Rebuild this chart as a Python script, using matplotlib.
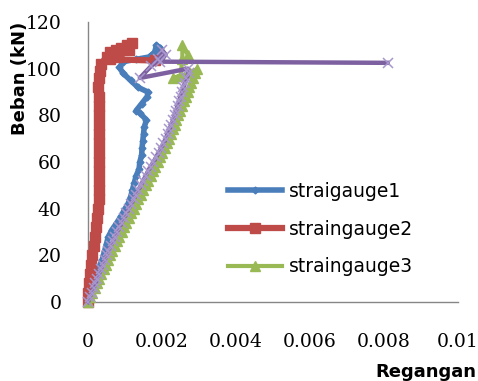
import matplotlib
matplotlib.use("Agg")
import matplotlib.pyplot as plt
import numpy as np

# regangan dalam satuan 1e-3, beban dalam kN
reg1 = [0, 0.05, 0.1, 0.15, 0.22, 0.3, 0.38, 0.45, 0.5, 0.55, 0.65, 0.78, 0.9, 1.0, 1.08,
        1.15, 1.2, 1.25, 1.3, 1.38, 1.4, 1.45, 1.46, 1.48, 1.5, 1.52, 1.58, 1.4, 1.3, 1.45,
        1.6, 1.62, 1.35, 1.15, 0.95, 0.85, 0.95, 1.3, 1.65, 1.8, 1.85, 1.95, 1.75]
beban1 = [0, 3, 6, 9, 12, 15, 18, 22, 25, 28, 31, 34, 37, 40, 42,
          45, 48, 51, 54, 57, 60, 63, 66, 69, 72, 75, 78, 81, 82, 85,
          88, 90, 92, 95, 98, 100.5, 103, 104, 105, 107, 110, 109, 106]

reg2 = [0, 0.0, 0.02, 0.05, 0.08, 0.12, 0.15, 0.19, 0.22, 0.25, 0.28, 0.3, 0.31, 0.3,
        0.31, 0.3, 0.3, 0.31, 0.3, 0.29, 0.3, 0.31, 0.3, 0.28, 0.3, 0.32, 0.35, 0.5,
        0.6, 0.75, 0.9, 1.05, 1.2, 1.1, 0.8, 0.6, 1.8]
beban2 = [0, 4, 8, 12, 16, 20, 24, 28, 32, 36, 40, 44, 48, 52,
          56, 60, 64, 68, 72, 76, 80, 84, 88, 92, 96, 99, 102, 105,
          107, 108, 109, 110, 111, 108, 105, 104, 103.5]

reg3 = [0, 0.06, 0.12, 0.18, 0.24, 0.3, 0.36, 0.42, 0.48, 0.54, 0.6, 0.66, 0.72, 0.78,
        0.85, 0.91, 0.97, 1.04, 1.1, 1.17, 1.23, 1.3, 1.36, 1.43, 1.49, 1.56, 1.62, 1.69,
        1.75, 1.82, 1.88, 1.95, 2.01, 2.07, 2.13, 2.19, 2.24, 2.29, 2.34, 2.39, 2.44,
        2.49, 2.54, 2.59, 2.64, 2.69, 2.74, 2.79, 2.84, 2.89, 2.95,
        2.75, 2.3, 2.5, 2.55, 2.55, 2.7]
beban3 = [0, 2, 4, 6, 8, 10, 12, 14, 16, 18, 20, 22, 24, 26,
          28, 30, 32, 34, 36, 38, 40, 42, 44, 46, 48, 50, 52, 54,
          56, 58, 60, 62, 64, 66, 68, 70, 72, 74, 76, 78, 80,
          82, 84, 86, 88, 90, 92, 94, 96, 98, 100,
          98, 96, 97, 104, 110, 106]

reg4 = [0, 0.05, 0.1, 0.15, 0.2, 0.25, 0.3, 0.35, 0.4, 0.45, 0.5, 0.55, 0.61, 0.67,
        0.73, 0.79, 0.85, 0.91, 0.98, 1.04, 1.1, 1.17, 1.23, 1.3, 1.36, 1.43, 1.49, 1.56,
        1.62, 1.69, 1.77, 1.84, 1.91, 1.98, 2.04, 2.1, 2.15, 2.2, 2.25, 2.3, 2.34,
        2.38, 2.42, 2.46, 2.5, 2.54, 2.58, 2.62, 2.66, 2.72, 2.7,
        1.4, 1.7, 1.9, 2.0, 2.1, 1.95, 8.1]
beban4 = [0, 2, 4, 6, 8, 10, 12, 14, 16, 18, 20, 22, 24, 26,
          28, 30, 32, 34, 36, 38, 40, 42, 44, 46, 48, 50, 52, 54,
          56, 58, 60, 62, 64, 66, 68, 70, 72, 74, 76, 78, 80,
          82, 84, 86, 88, 90, 92, 94, 96, 98, 100,
          96, 101, 104, 108, 106, 103, 102.5]

label_seri = ["straigauge1", "straingauge2", "straingauge3"]
xticks = [0, 0.002, 0.004, 0.006, 0.008, 0.01]
xlabels = ["0", "0.002", "0.004", "0.006", "0.008", "0.01"]
yticks = [0, 20, 40, 60, 80, 100, 120]

fig = plt.figure(figsize=(4.78, 3.81), dpi=100)
ax = fig.add_axes([88 / 478, 1 - 302 / 381, 370 / 478, 280 / 381])

s = 1e-3
ax.plot(np.array(reg1) * s, beban1, color="#4A7EBB", lw=4, marker="D", ms=3.5,
        label=label_seri[0], zorder=3)
ax.plot(np.array(reg2) * s, beban2, color="#BE4B48", lw=4.5, marker="s", ms=6.5,
        label=label_seri[1], zorder=4)
ax.plot(np.array(reg3) * s, beban3, color="#98B954", lw=3, marker="^", ms=7,
        label=label_seri[2], zorder=5)
ax.plot(np.array(reg4) * s, beban4, color="#7D60A0", lw=3.2, marker="x", ms=7,
        mec="#A897CC", mew=1.1, label="_nolegend_", zorder=6)

ax.set_xlim(0, 0.01)
ax.set_ylim(0, 120)
ax.set_xticks(xticks)
ax.set_xticklabels(xlabels)
ax.set_yticks(yticks)
for sp in ["top", "right"]:
    ax.spines[sp].set_visible(False)
for sp in ["left", "bottom"]:
    ax.spines[sp].set_color("#868686")
    ax.spines[sp].set_linewidth(1)
ax.tick_params(axis="both", which="both", length=0, labelsize=13.5)
ax.tick_params(axis="x", which="major", pad=22)
ax.tick_params(axis="y", which="major", pad=19)
for t in ax.get_xticklabels() + ax.get_yticklabels():
    t.set_fontfamily("DejaVu Serif")
for l in ax.lines:
    l.set_clip_on(False)

fig.text(20 / 478, 1 - 78 / 381, "Beban (kN)", rotation=90, ha="center", va="center",
         fontsize=13, fontweight="bold", family="DejaVu Sans")
fig.text(476 / 478, 1 - 372 / 381, "Regangan", ha="right", va="center",
         fontsize=13, fontweight="bold", family="DejaVu Sans")

ax.legend(loc="upper left", bbox_to_anchor=(228 / 478, 1 - 182 / 381),
          bbox_transform=fig.transFigure, frameon=False,
          prop={"family": "DejaVu Sans", "size": 13.5}, handlelength=2.9,
          handletextpad=0.35, labelspacing=1.0, borderpad=0, borderaxespad=0)

fig.savefig("out.png", dpi=100)
